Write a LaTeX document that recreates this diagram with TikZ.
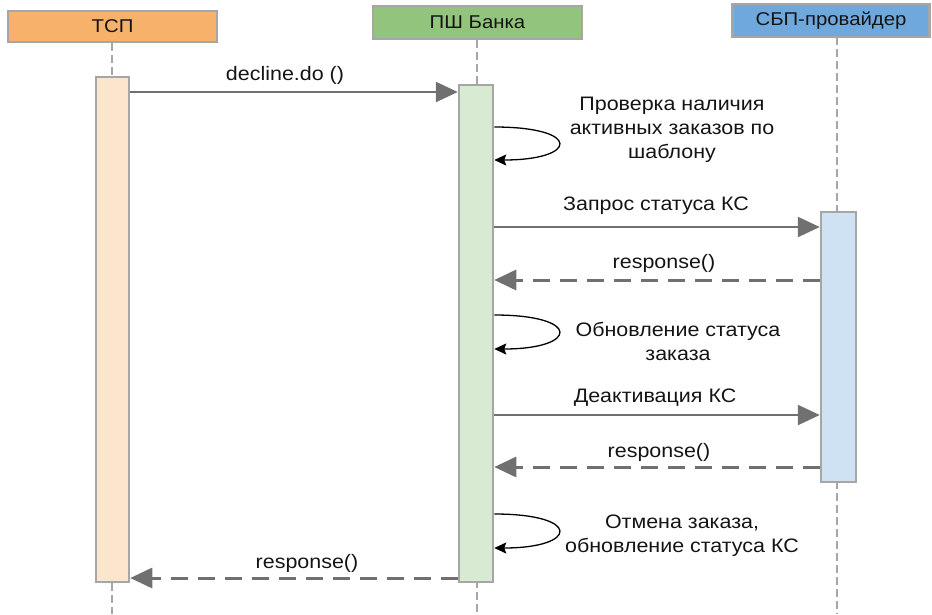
\documentclass[tikz,border=0pt]{standalone}
\usepackage{fontspec}
\setmainfont[FakeStretch=1.1]{Liberation Sans}
\usetikzlibrary{arrows.meta}
\definecolor{hdrO}{HTML}{F6B26B}
\definecolor{hdrG}{HTML}{93C47D}
\definecolor{hdrB}{HTML}{6FA8DC}
\definecolor{barO}{HTML}{FCE5CD}
\definecolor{barG}{HTML}{D9EAD3}
\definecolor{barB}{HTML}{CFE2F3}
\definecolor{edge}{HTML}{A6A6A6}
\definecolor{msg}{HTML}{707070}
\begin{document}
\begin{tikzpicture}[x=1pt,y=-1pt,
  every node/.style={font=\fontsize{19.5}{24}\selectfont, text=black!92},
  hdr/.style={draw=edge, line width=2.5pt, rectangle, inner sep=0pt},
  bar/.style={draw=edge, line width=2.5pt, rectangle, inner sep=0pt, minimum width=33pt},
  life/.style={draw=edge, line width=2.5pt, dash pattern=on 8pt off 4pt},
  call/.style={draw=msg, line width=2.5pt, -{Triangle[length=22pt,width=20pt]}, fill=msg},
  reply/.style={draw=msg, line width=3pt, dash pattern=on 17pt off 10pt, -{Triangle[length=22pt,width=20pt,fill=msg]}},
  selfcall/.style={draw=black, line width=1.3pt, -{Stealth[length=12pt,width=11pt,inset=2pt]}},
  lbl/.style={inner sep=0pt, align=center}
]
\useasboundingbox (0,0) rectangle (932,614);

% headers
\node[hdr, fill=hdrO, minimum width=209pt, minimum height=31pt, font=\fontsize{18.5}{22}\selectfont] (h1) at (112.5,26.5) {ТСП};
\node[hdr, fill=hdrG, minimum width=209pt, minimum height=33pt, font=\fontsize{18.5}{22}\selectfont] (h2) at (477.5,22.5) {ПШ Банка};
\node[hdr, fill=hdrB, minimum width=197pt, minimum height=33pt, font=\fontsize{18.5}{22}\selectfont] (h3) at (831,20.5) {СБП-провайдер};

% lifeline ends
\coordinate (l1b) at (112,614);
\coordinate (l2b) at (477,614);
\coordinate (l3t) at (837,37);
\coordinate (l3b) at (837,614);

\draw[life] (h1.south -| l1b) -- (l1b);
\draw[life] (h2.south -| l2b) -- (l2b);
\draw[life] (l3t) -- (l3b);

% activation bars
\node[bar, fill=barO, minimum height=505pt] (a1) at (112.5,329.5) {};
\node[bar, fill=barG, minimum width=34pt, minimum height=497pt] (a2) at (476,333.5) {};
\node[bar, fill=barB, minimum width=35pt, minimum height=270pt] (a3) at (838.5,347) {};

% message rows
\coordinate (y1) at (0,92);
\coordinate (y2a) at (0,127);
\coordinate (y2b) at (0,160);
\coordinate (y3) at (0,227);
\coordinate (y4) at (0,280);
\coordinate (y5a) at (0,315);
\coordinate (y5b) at (0,349);
\coordinate (y6) at (0,415);
\coordinate (y7) at (0,467);
\coordinate (y8a) at (0,514);
\coordinate (y8b) at (0,548);
\coordinate (y9) at (0,578);

% messages
\draw[call] (a1.east |- y1) -- (a2.west |- y1);
\node[lbl] (t1) at (285,75) {decline.do ()};

\draw[selfcall] (a2.east |- y2a) .. controls +(88,0) and +(84,0) .. (a2.east |- y2b);
\node[lbl] (t2) at (672,130) {Проверка наличия\\активных заказов по\\шаблону};

\draw[call] (a2.east |- y3) -- (a3.west |- y3);
\node[lbl] (t3) at (656,206) {Запрос статуса КС};

\draw[reply] (a3.west |- y4) -- (a2.east |- y4);
\node[lbl] (t4) at (664,263) {response()};

\draw[selfcall] (a2.east |- y5a) .. controls +(88,0) and +(84,0) .. (a2.east |- y5b);
\node[lbl] (t5) at (678,341) {Обновление статуса\\заказа};

\draw[call] (a2.east |- y6) -- (a3.west |- y6);
\node[lbl] (t6) at (655,398) {Деактивация КС};

\draw[reply] (a3.west |- y7) -- (a2.east |- y7);
\node[lbl] (t7) at (659,452) {response()};

\draw[selfcall] (a2.east |- y8a) .. controls +(88,0) and +(84,0) .. (a2.east |- y8b);
\node[lbl] (t8) at (682,536) {Отмена заказа,\\обновление статуса КС};

\draw[reply] (a2.west |- y9) -- (a1.east |- y9);
\node[lbl] (t9) at (307,563) {response()};
\end{tikzpicture}
\end{document}
